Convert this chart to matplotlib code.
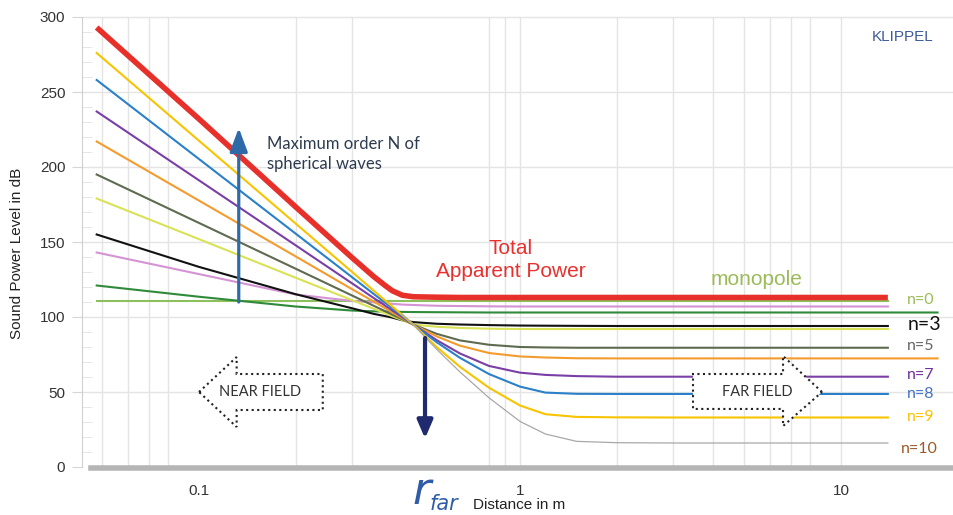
import numpy as np
import matplotlib
matplotlib.use("Agg")
import matplotlib.pyplot as plt
from matplotlib.patches import Polygon
from matplotlib.ticker import MultipleLocator, NullLocator

plt.rcParams['font.family'] = ['Liberation Sans', 'DejaVu Sans']

# Distance grid (m) shared by all curves; nan = curve not drawn there
distance = [0.048, 0.1, 0.2, 0.3, 0.35, 0.38, 0.4, 0.43, 0.465, 0.55, 0.65,
            0.8, 1.0, 1.2, 1.5, 2.0, 3.0, 14.0, 20.0]
nan = np.nan

# Sound power level in dB per spherical-wave order n
level_n0 = [110.5, 110.5, 110.5, 110.5, 110.5, 110.5, 110.5, 110.5, 110.5, 110.5, 110.5,
            110.5, 110.5, 110.5, 110.5, 110.5, 110.5, 110.5, nan]
level_n1 = [121, 113.5, 107, 104.3, 103.8, 103.6, 103.5, 103.4, 103.3, 103.2, 103.1,
            103, 103, 103, 103, 103, 103, 103, 103]
level_n2 = [143, 128.6, 115, 110.7, 109.8, 109.2, 108.8, 108.3, 108, 107.5, 107.3,
            107.1, 107, 107, 107, 107, 107, 107, nan]
level_n3 = [155, 133.4, 115.2, 105.8, 102.1, 100.6, 99.6, 97.8, 96.6, 95.5, 95,
            94.6, 94.3, 94.2, 94.1, 94, 94, 94, nan]
level_n4 = [179, 151.9, 126.2, 111.2, 105.5, 102.5, 100.5, 97.9, 95, 93.5, 92.7,
            92.2, 92, 92, 92, 92, 92, 92, nan]
level_n5 = [195, 162.7, 132.2, 114.3, 107.5, 103.9, 101.6, 98.5, 95, 88.8, 84.4,
            81.5, 80, 79.7, 79.5, 79.5, 79.5, 79.5, nan]
level_n6 = [217, 177.6, 140.4, 118.5, 110.3, 105.9, 103, 99.2, 95, 87.1, 80.9,
            76, 73.7, 73, 72.5, 72.4, 72.4, 72.4, 72.4]
level_n7 = [237, 191.1, 147.8, 122.4, 112.7, 107.6, 104.4, 99.9, 95, 84.6, 75.7,
            67.4, 62.9, 61.4, 60.6, 60.2, 60.2, 60.2, nan]
level_n8 = [258, 205.3, 155.6, 126.5, 115.4, 109.6, 105.8, 100.6, 95, 83.2, 72.8,
            62, 53.6, 49.6, 48.8, 48.7, 48.7, 48.7, nan]
level_n9 = [276, 217.5, 162.3, 130, 117.6, 111, 107, 101.3, 95, 80, 66.8,
            52.9, 41, 35.2, 33.4, 33.1, 33, 33, nan]
level_n10 = [nan, nan, nan, nan, nan, nan, nan, 101.8, 95, 78.5, 63.4,
             46.2, 30.4, 22, 17.1, 16.2, 16, 16, nan]
level_total = [293, 232, 173.4, 139.5, 127, 121, 117.5, 114.5, 113.5, 113.2, 113,
               113, 113, 113, 113, 113, 113, 113, nan]

orders = [
    (level_n0, '#8dc05c'), (level_n1, '#2f8a3a'), (level_n2, '#d493d3'),
    (level_n3, '#111111'), (level_n4, '#d9e255'), (level_n5, '#5f6b50'),
    (level_n6, '#f49b2e'), (level_n7, '#7a3fa6'), (level_n8, '#2a80c9'),
    (level_n9, '#f6c400'),
]

order_labels = ['n=0', 'n=3', 'n=5', 'n=7', 'n=8', 'n=9', 'n=10']
order_label_levels = [111.3, 95.3, 80.7, 61.3, 48.7, 33.3, 12]
order_label_colors = ['#9bbb59', '#111111', '#666666', '#7030a0', '#4472c4', '#ffc000', '#9c5a2a']

grid_x = [0.05, 0.06, 0.07, 0.08, 0.2, 0.3, 0.8, 0.9, 1, 2, 3, 4, 5, 6, 7, 8, 10]

fig = plt.figure(figsize=(9.54, 5.15), dpi=100)
ax = fig.add_axes([82 / 954, 48 / 515, 872 / 954, 450 / 515])
ax.set_xscale('log')
ax.set_xlim(0.0432, 22.5)
ax.set_ylim(0, 300)

# grid
for gx in grid_x:
    ax.axvline(gx, color='#e4e4e4', lw=1, zorder=0)
for gy in range(50, 301, 50):
    ax.axhline(gy, color='#e4e4e4', lw=1, zorder=0, clip_on=False)

# curves
for vals, col in orders:
    ax.plot(distance, vals, color=col, lw=1.5, zorder=2)
ax.plot(distance, level_n10, color='#a8a8a8', lw=0.9, zorder=2)
ax.plot(distance, level_total, color='#e8302a', lw=4, zorder=3, solid_capstyle='butt',
        solid_joinstyle='round')

# axes styling
for s in ['top', 'right']:
    ax.spines[s].set_visible(False)
ax.spines['left'].set_color('#d0d0d0')
ax.spines['bottom'].set_color('#b5b5b5')
ax.spines['bottom'].set_linewidth(4)
ax.spines['bottom'].set_bounds(0.046, 22.5)
ax.spines['bottom'].set_position(('outward', 1))

ax.set_yticks(range(0, 301, 50))
ax.yaxis.set_minor_locator(MultipleLocator(10))
ax.tick_params(axis='y', which='major', length=7, color='#d6d6d6', labelsize=11,
               labelcolor='#333333', pad=5)
ax.tick_params(axis='y', which='minor', direction='in', length=7, color='#e2e2e2')
ax.set_xticks([0.1, 1, 10])
ax.set_xticklabels(['0.1', '1', '10'])
ax.xaxis.set_minor_locator(NullLocator())
ax.tick_params(axis='x', length=0, labelsize=11, labelcolor='#333333', pad=11)

ax.set_ylabel('Sound Power Level in dB', fontsize=11, color='#222222')
ax.yaxis.set_label_coords(-0.066, 0.475)
fig.text(519 / 954, 1 - 505 / 515, 'Distance in m', fontsize=11, color='#222222',
         ha='center', va='center')
fig.text(412 / 954, 1 - 504 / 515, 'r', fontsize=32, style='italic', color='#2f5ca8',
         family='DejaVu Sans', ha='left', va='baseline')
fig.text(430 / 954, 1 - 510 / 515, 'far', fontsize=15, style='italic', color='#2f5ca8',
         family='DejaVu Sans', ha='left', va='baseline')

# annotations
ax.annotate('', xy=(0.133, 226), xytext=(0.133, 110),
            arrowprops=dict(arrowstyle='-|>,head_length=0.8,head_width=0.3', lw=2.3,
                            color='#2e6aa8', mutation_scale=18, shrinkA=0, shrinkB=0),
            zorder=6)
ax.annotate('', xy=(0.506, 19), xytext=(0.506, 86),
            arrowprops=dict(arrowstyle='-|>,head_length=0.72,head_width=0.31', lw=3,
                            color='#1f2b6e', mutation_scale=15, shrinkA=0, shrinkB=0),
            zorder=6)

ax.text(0.163, 208.5, 'Maximum order N of\nspherical waves', fontsize=12, color='#2d3b4f',
        family=['Lato', 'DejaVu Sans'], ha='left', va='center', linespacing=1.32)
ax.text(0.937, 138, 'Total\nApparent Power', fontsize=15, color='#e8312f',
        ha='center', va='center', linespacing=1.25)
ax.text(5.47, 124.7, 'monopole', fontsize=15, color='#9bbb59', ha='center', va='center')
ax.text(15.6, 286.7, 'KLIPPEL', fontsize=11, color='#3f5a9a', ha='center', va='center')

for lab, lv, col in zip(order_labels, order_label_levels, order_label_colors):
    big = lab == 'n=3'
    ax.text(16.1 if lab != 'n=10' else 15.4, lv, lab, fontsize=14 if big else 11.5,
            color=col, ha='left', va='center', family=['Lato', 'DejaVu Sans'])

near = Polygon([(0.1, 50), (0.131, 73.3), (0.131, 62), (0.243, 62), (0.243, 38),
                (0.131, 38), (0.131, 26.7)], closed=True, facecolor='white',
               edgecolor='#222222', lw=1.5, ls=':', zorder=5)
far = Polygon([(8.73, 50), (6.6, 74), (6.6, 62), (3.46, 62), (3.46, 38.7),
               (6.6, 38.7), (6.6, 27.3)], closed=True, facecolor='white',
              edgecolor='#222222', lw=1.5, ls=':', zorder=5)
ax.add_patch(near)
ax.add_patch(far)
ax.text(0.155, 50, 'NEAR FIELD', fontsize=10.5, color='#333333', ha='center', va='center',
        family=['Lato', 'DejaVu Sans'], zorder=7)
ax.text(5.5, 50, 'FAR FIELD', fontsize=10.5, color='#333333', ha='center', va='center',
        family=['Lato', 'DejaVu Sans'], zorder=7)

fig.savefig('out.png', dpi=100, facecolor='white')
